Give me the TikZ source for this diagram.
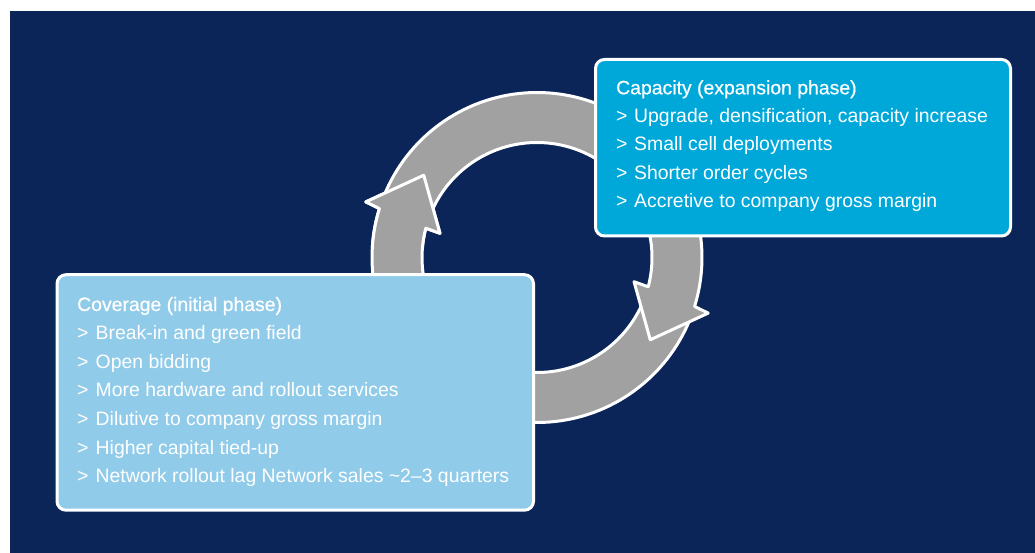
\documentclass[tikz,border=0pt]{standalone}
\usepackage{fontspec}
\setmainfont{Liberation Sans}
\newfontfamily\headingfont[FakeBold=0.5]{Liberation Sans}

\definecolor{navy}{HTML}{0B2559}
\definecolor{ringgray}{HTML}{A1A1A1}
\definecolor{capfill}{HTML}{00A8DA}
\definecolor{covfill}{HTML}{90CBE9}

% Arrow running clockwise from under the capacity box, round the bottom
% and up the left side, ending in a head (centre 537,257.5; ring 115--165).
\newcommand{\upwardarrowpath}{%
  plot[domain=20:197.25, samples=90] ({537+165*cos(\x)},{257.5+165*sin(\x)})
  -- ({537+180*cos(198)},{257.5+180*sin(198)})
  -- ({537+140*cos(216)},{257.5+140*sin(216)})
  -- ({537+100*cos(194)},{257.5+100*sin(194)})
  -- plot[domain=194.75:20, samples=90] ({537+115*cos(\x)},{257.5+115*sin(\x)})
  -- cycle}
% Arrow running clockwise over the top and down the right side.
\newcommand{\downwardarrowpath}{%
  plot[domain=200:377.25, samples=90] ({537+165*cos(\x)},{257.5+165*sin(\x)})
  -- ({537+180*cos(378)},{257.5+180*sin(378)})
  -- ({537+140*cos(396)},{257.5+140*sin(396)})
  -- ({537+100*cos(374)},{257.5+100*sin(374)})
  -- plot[domain=374.75:200, samples=90] ({537+115*cos(\x)},{257.5+115*sin(\x)})
  -- cycle}

\begin{document}
\begin{tikzpicture}[x=1pt, y=-1pt,
  phasebox/.style={draw=white, line width=3pt, rounded corners=9pt,
    inner sep=0pt, anchor=north west},
  ringarrow/.style={fill=ringgray, draw=white, line width=3pt, line join=round},
  boxtext/.style={anchor=base west, inner sep=0pt, text=white,
    font=\fontsize{19.4}{24}\selectfont},
  boxtitle/.style={boxtext, font=\headingfont\fontsize{19.4}{24}\selectfont}
]
\useasboundingbox (0,0) rectangle (1035,553);
\fill[white] (0,0) rectangle (1035,553);
\fill[navy] (10,11) rectangle (1035,553);

% cycle arrows
\path[ringarrow] \upwardarrowpath;
\path[ringarrow] \downwardarrowpath;
\begin{scope}
  \clip (345,150) rectangle (470,248);
  \path[ringarrow] \upwardarrowpath;
\end{scope}

% phase boxes
\node[phasebox, fill=capfill, minimum width=415pt, minimum height=176.5pt]
  (capbox) at (594,58) {};
\node[phasebox, fill=covfill, minimum width=476.5pt, minimum height=235.5pt]
  (covbox) at (55.5,273.2) {};

% capacity text
\node[boxtitle] (captitle) at (616,94.3) {Capacity (expansion phase)};
\foreach \t [count=\i] in {{Upgrade, densification, capacity increase},
    {Small cell deployments}, {Shorter order cycles},
    {Accretive to company gross margin}}
  \node[boxtext] (capitem\i) at (616,94.3+28.3*\i) {\makebox[18pt][l]{>}\t};

% coverage text
\node[boxtitle] (covtitle) at (77,311) {Coverage (initial phase)};
\foreach \t [count=\i] in {{Break-in and green field}, {Open bidding},
    {More hardware and rollout services}, {Dilutive to company gross margin},
    {Higher capital tied-up}, {Network rollout lag Network sales \textasciitilde2–3 quarters}}
  \node[boxtext] (covitem\i) at (77,311+28.6*\i) {\makebox[18.5pt][l]{>}\t};
\end{tikzpicture}
\end{document}
